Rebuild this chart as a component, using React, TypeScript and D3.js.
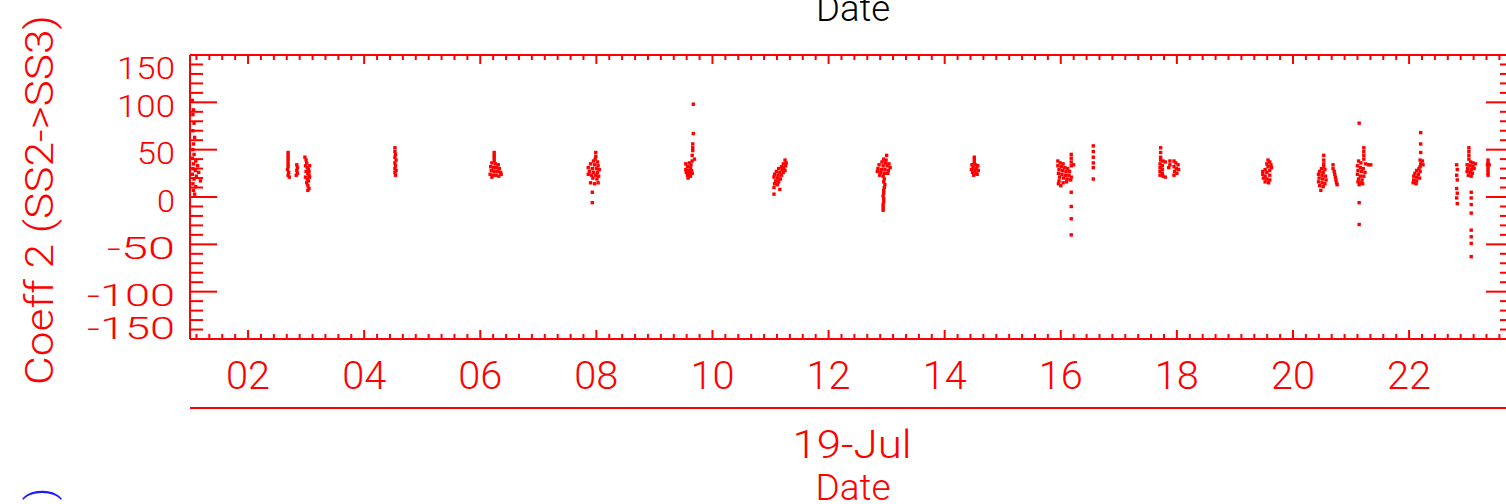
import React from "react";
import * as d3 from "d3";

// ---- Data (hour of day on 19-Jul, Coeff 2 value) ----
const cLeft = [[1.04,102],[1.06,92],[1.05,87],[1.07,78],[1.05,70],[1.08,63],[1.06,56],[1.05,50],[1.07,45],[1.04,41],[1.1,38],[1.06,35],[1.13,33],[1.05,30],[1.09,28],[1.15,26],[1.04,24],[1.11,22],[1.07,19],[1.18,17],[1.05,14],[1.1,11],[1.06,7],[1.08,3]];
const cA = [[2.69,47],[2.69,44],[2.69,41],[2.69,38],[2.69,35],[2.69,32],[2.68,29],[2.7,26],[2.69,23],[2.71,21],[2.84,34],[2.85,31],[2.84,28],[2.85,25],[2.83,23],[2.98,42],[3.0,39],[3.01,36],[2.99,33],[3.02,31],[3.04,29],[3.0,27],[3.03,25],[3.05,23],[2.99,21],[3.02,19],[3.04,17],[3.01,15],[3.03,12],[3.05,9],[3.03,7],[3.06,33],[3.05,27],[3.06,21]];
const cB = [[4.53,52],[4.53,48],[4.54,45],[4.53,42],[4.55,39],[4.53,36],[4.54,33],[4.53,30],[4.55,28],[4.53,26],[4.54,23]];
const cC = [[6.24,47],[6.24,44],[6.24,41],[6.24,38],[6.2,36],[6.26,35],[6.31,34],[6.18,32],[6.23,31],[6.28,31],[6.33,30],[6.19,28],[6.24,27],[6.3,27],[6.35,26],[6.17,24],[6.22,23],[6.27,23],[6.32,22],[6.2,21],[6.36,24]];
const cD = [[7.99,47],[7.99,43],[7.98,40],[7.95,38],[8.02,37],[7.9,35],[7.97,34],[8.03,33],[7.86,31],[7.93,30],[8.0,30],[8.05,29],[7.88,27],[7.95,26],[8.02,26],[7.86,24],[7.92,23],[7.99,23],[8.04,22],[7.94,20],[8.01,19],[7.9,15],[7.97,14],[8.03,15],[7.93,5],[7.93,-6]];
const cE = [[9.67,98],[9.67,67],[9.66,56],[9.66,52],[9.66,49],[9.65,44],[9.69,40],[9.65,38],[9.6,36],[9.54,35],[9.63,34],[9.57,32],[9.62,31],[9.54,29],[9.59,28],[9.64,28],[9.55,26],[9.6,25],[9.65,25],[9.57,23],[9.62,22],[9.58,20]];
const cF = [[11.25,39],[11.27,36],[11.22,35],[11.26,33],[11.19,32],[11.23,31],[11.14,30],[11.2,29],[11.25,28],[11.1,27],[11.16,26],[11.22,26],[11.07,24],[11.13,23],[11.19,23],[11.06,21],[11.12,20],[11.17,19],[11.09,17],[11.14,16],[11.07,14],[11.12,13],[11.06,10],[11.16,8],[11.06,3]];
const cG = [[13.0,44],[12.95,40],[12.99,39],[12.92,37],[12.98,36],[13.04,35],[12.87,34],[12.94,33],[13.01,33],[13.06,31],[12.85,30],[12.91,29],[12.97,29],[13.03,28],[12.84,27],[12.9,26],[12.96,25],[13.02,25],[12.88,23],[12.94,22],[12.96,19],[12.95,16],[12.97,13],[12.96,10],[12.95,7],[12.95,4],[12.94,1],[12.95,-2],[12.95,-5],[12.94,-8],[12.94,-11],[12.94,-14]];
const cH = [[14.51,42],[14.51,39],[14.51,36],[14.47,34],[14.53,34],[14.57,33],[14.49,31],[14.55,30],[14.46,29],[14.52,28],[14.58,28],[14.48,26],[14.54,25],[14.5,23],[14.56,24]];
const cI = [[16.18,45],[16.18,41],[16.18,37],[16.22,34],[16.18,33],[15.95,38],[15.99,36],[16.04,35],[15.95,33],[16.01,32],[16.07,31],[16.12,30],[15.97,29],[16.03,28],[16.09,27],[16.15,27],[15.96,25],[16.02,24],[16.08,23],[16.14,23],[16.18,21],[15.98,21],[16.05,20],[16.11,19],[16.17,18],[15.97,17],[16.04,15],[16.1,16],[15.96,14],[16.0,12],[16.18,5],[16.18,-10],[16.18,-23],[16.18,-40]];
const cJ = [[16.56,54],[16.56,48],[16.56,42],[16.56,36],[16.56,31],[16.56,19]];
const cK = [[17.72,52],[17.72,47],[17.72,42],[17.72,39],[17.76,38],[17.8,37],[17.71,35],[17.75,33],[17.71,31],[17.75,29],[17.71,27],[17.75,25],[17.71,23],[17.76,22],[17.8,21],[17.88,38],[17.88,34],[17.86,31],[17.95,38],[17.98,36],[18.02,34],[17.95,32],[17.99,30],[18.03,29],[17.96,27],[18.0,25],[17.95,23]];
const cL = [[19.57,39],[19.6,37],[19.55,35],[19.62,34],[19.57,32],[19.63,31],[19.52,29],[19.6,28],[19.48,27],[19.55,26],[19.48,24],[19.52,22],[19.6,23],[19.49,20],[19.55,19],[19.6,18],[19.52,16],[19.58,15]];
const cM = [[20.53,44],[20.53,39],[20.53,35],[20.53,32],[20.49,30],[20.55,29],[20.46,27],[20.52,26],[20.44,24],[20.5,23],[20.56,22],[20.45,20],[20.51,19],[20.57,18],[20.44,16],[20.5,15],[20.55,14],[20.46,12],[20.52,11],[20.48,7],[20.69,34],[20.69,30],[20.71,27],[20.72,24],[20.73,21],[20.74,18],[20.75,15],[20.76,13]];
const cN = [[21.14,78],[21.22,52],[21.22,48],[21.22,44],[21.22,40],[21.13,38],[21.17,36],[21.25,35],[21.3,34],[21.34,34],[21.11,33],[21.16,31],[21.21,30],[21.12,28],[21.18,27],[21.24,26],[21.11,24],[21.16,22],[21.22,22],[21.13,19],[21.19,18],[21.12,16],[21.17,15],[21.14,13],[21.2,14],[21.14,-6],[21.14,-29]];
const cO = [[22.2,68],[22.2,56],[22.2,47],[22.19,39],[22.23,38],[22.2,35],[22.24,34],[22.19,32],[22.17,30],[22.13,28],[22.19,27],[22.1,25],[22.16,24],[22.08,22],[22.13,21],[22.18,20],[22.08,18],[22.13,17],[22.07,15],[22.12,14]];
const cP = [[22.82,34],[22.83,29],[22.82,23],[22.83,18],[22.82,9],[22.83,4],[22.82,-1],[22.83,-7]];
const cQ = [[23.03,52],[23.03,48],[23.03,44],[23.03,40],[23.06,37],[23.1,36],[23.14,35],[23.0,34],[23.05,33],[23.1,32],[23.01,30],[23.07,29],[23.12,30],[23.0,27],[23.05,26],[23.09,25],[23.02,23],[23.07,22],[23.07,5],[23.07,-1],[23.07,-8],[23.07,-17],[23.07,-35],[23.07,-42],[23.07,-49],[23.07,-63]];
const cR = [[23.36,39],[23.36,36],[23.35,34],[23.38,34],[23.36,31],[23.36,28],[23.36,25],[23.36,23]];

const xTickHours = [2, 4, 6, 8, 10, 12, 14, 16, 18, 20, 22];
const xTickLabels = ["02", "04", "06", "08", "10", "12", "14", "16", "18", "20", "22"];
const yTickValues = [-150, -100, -50, 0, 50, 100, 150];
const yTickLabels = ["-150", "-100", "-50", "0", "50", "100", "150"];
const xDomain = [1.0, 23.79];
const yDomain = [-150, 150];
const yTitle = "Coeff 2 (SS2->SS3)";
const dateLabel = "19-Jul";
const xTitle = "Date";

const allPoints = [cLeft, cA, cB, cC, cD, cE, cF, cG, cH, cI, cJ, cK, cL, cM, cN, cO, cP, cQ, cR].flat();

const W = 1506, H = 504;
const L = 190, R = 1513, T = 55, B = 339;
const RED = "#ff0000";
const FONT = "Roboto, 'DejaVu Sans', sans-serif";

export default function App() {
  const x = d3.scaleLinear().domain(xDomain).range([L, R]);
  const y = d3.scaleLinear().domain(yDomain).range([B, T]);

  const yMinor = d3.range(-150, 151, 10);
  const step = 2 / 9;
  const xMinor: number[] = [];
  for (let k = -5; k <= 100; k++) {
    const h = 2 + k * step;
    if (h >= xDomain[0] && h <= xDomain[1]) xMinor.push(h);
  }

  const yLabelLen = (s: string) => {
    const digits = s.replace("-", "").length;
    return digits * 20 - 2 + (s.startsWith("-") ? 30 : 0);
  };
  const yLabelCenter = (v: number, i: number) => {
    if (i === yTickValues.length - 1) return y(v) + 12;
    if (i === 0) return y(v) - 12;
    return y(v) + 3;
  };

  return (
    <svg width={W} height={H} style={{ position: "absolute", left: 0, top: 0, background: "#fff" }}>
      <rect x={0} y={0} width={W} height={H} fill="#fff" />
      {/* top clipped "Date" from previous panel */}
      <text x={853} y={21} textAnchor="middle" fontFamily={FONT} fontWeight={300} fontSize={36} fill="#000" textLength={74} lengthAdjust="spacingAndGlyphs">{xTitle}</text>

      {/* frame */}
      <g stroke={RED} strokeWidth={2} fill="none">
        <line x1={L} y1={T} x2={R} y2={T} />
        <line x1={L} y1={B} x2={R} y2={B} />
        <line x1={L} y1={T} x2={L} y2={B} />
        <line x1={R} y1={T} x2={R} y2={B} />
        {yMinor.map((v) => {
          const major = v % 50 === 0;
          const len = major ? 27 : 13;
          return (
            <g key={"yt" + v}>
              <line x1={L} x2={L + len} y1={y(v)} y2={y(v)} />
              <line x1={R} x2={R - len} y1={y(v)} y2={y(v)} />
            </g>
          );
        })}
        {xMinor.map((h, i) => {
          const major = Math.abs((h - 2) / 2 - Math.round((h - 2) / 2)) < 1e-6;
          const len = major ? 9 : 5;
          return (
            <g key={"xt" + i}>
              <line x1={x(h)} x2={x(h)} y1={B} y2={B - len} />
              <line x1={x(h)} x2={x(h)} y1={T} y2={T + len} />
            </g>
          );
        })}
        <line x1={L} y1={408} x2={R} y2={408} />
      </g>

      {/* data */}
      <g fill={RED}>
        {allPoints.map((p, i) => (
          <rect key={i} x={x(p[0]) - 1.7} y={y(p[1]) - 1.7} width={3.4} height={3.4} />
        ))}
      </g>

      {/* y tick labels */}
      <g fill={RED} fontFamily={FONT} fontWeight={300} fontSize={31}>
        {yTickValues.map((v, i) => (
          <text key={v} x={175} y={yLabelCenter(v, i) + 11.5} textAnchor="end" textLength={yLabelLen(yTickLabels[i])} lengthAdjust="spacingAndGlyphs">
            {yTickLabels[i]}
          </text>
        ))}
      </g>

      {/* x tick labels */}
      <g fill={RED} fontFamily={FONT} fontWeight={300} fontSize={38}>
        {xTickHours.map((h, i) => (
          <text key={h} x={x(h)} y={389} textAnchor="middle" textLength={44} lengthAdjust="spacingAndGlyphs">
            {xTickLabels[i]}
          </text>
        ))}
        <text x={852} y={458} textAnchor="middle" textLength={119} lengthAdjust="spacingAndGlyphs">{dateLabel}</text>
        <text x={853} y={500} textAnchor="middle" fontSize={36} textLength={75} lengthAdjust="spacingAndGlyphs">{xTitle}</text>
      </g>

      {/* y title */}
      <text transform="translate(53,200) rotate(-90)" textAnchor="middle" fill={RED} fontFamily={FONT} fontWeight={300} fontSize={38} textLength={370} lengthAdjust="spacingAndGlyphs">
        {yTitle}
      </text>

      {/* clipped title of next panel */}
      <text transform="translate(53,494) rotate(-90)" textAnchor="middle" fill="#1a1aff" fontFamily={FONT} fontWeight={300} fontSize={38}>)</text>
    </svg>
  );
}
